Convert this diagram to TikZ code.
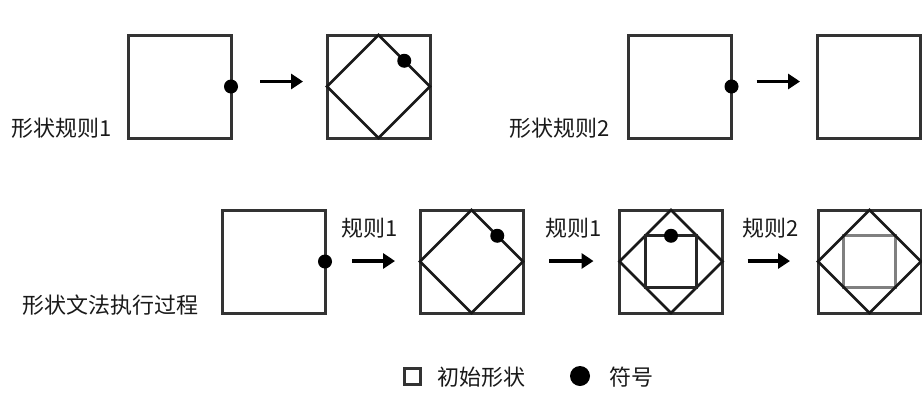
\documentclass[tikz,border=0pt]{standalone}
\usepackage{fontspec}
\setmainfont{Liberation Sans}
\newfontfamily\cjk{Noto Sans CJK SC}
\usetikzlibrary{arrows.meta,calc}
\begin{document}
\begin{tikzpicture}[x=1pt,y=-1pt,
  box/.style={draw=black!80,line width=3pt,minimum size=103pt,inner sep=0pt,outer sep=0pt},
  inbox/.style={draw=black!85,line width=2.8pt,minimum size=51.5pt,inner sep=0pt,outer sep=0pt},
  grayin/.style={draw=black!50,line width=3.2pt,minimum size=51.5pt,inner sep=0pt,outer sep=0pt},
  diam/.style={draw=black!90,line width=2.8pt,line join=miter},
  dot/.style={circle,fill=black,inner sep=0pt,minimum size=14pt},
  arr/.style={line width=3.6pt,-{Triangle[length=12pt,width=15pt]}},
  lbl/.style={font=\cjk\fontsize{22}{25}\selectfont,inner sep=0pt,text=black!90}
]
\useasboundingbox (0,0) rectangle (922,405);
% top row
\node[box] (s1) at (179.5,86.5) {};
\node[box] (s2) at (378.5,86.5) {};
\node[box] (s3) at (680,86.5) {};
\node[box] (s4) at (868.5,86.5) {};
\draw[diam] (s2.north) -- (s2.east) -- (s2.south) -- (s2.west) -- cycle;
\node[dot] (d1) at (s1.east) {};
\node[dot] (d2) at ($(s2.north)!0.5!(s2.east)$) {};
\node[dot] (d3) at (s3.east) {};
\draw[arr] ([xshift=29pt,yshift=5pt]s1.east) -- ([xshift=-24pt,yshift=5pt]s2.west);
\draw[arr] ([xshift=25pt,yshift=5pt]s3.east) -- ([xshift=-17pt,yshift=5pt]s4.west);
\node[lbl] (l1) at (62,128) {形状规则1};
\node[lbl] (l2) at (560,128) {形状规则2};
% bottom row
\node[box] (t1) at (273.5,261.5) {};
\node[box] (t2) at (471.5,261.5) {};
\node[box] (t3) at (671,261.5) {};
\node[box] (t4) at (869.5,261.5) {};
\draw[diam] (t2.north) -- (t2.east) -- (t2.south) -- (t2.west) -- cycle;
\draw[diam] (t3.north) -- (t3.east) -- (t3.south) -- (t3.west) -- cycle;
\node[inbox] (i3) at (t3.center) {};
\node[grayin] (i4) at (t4.center) {};
\draw[diam] (t4.north) -- (t4.east) -- (t4.south) -- (t4.west) -- cycle;
\node[dot] (e1) at (t1.east) {};
\node[dot] (e2) at ($(t2.north)!0.5!(t2.east)$) {};
\node[dot] (e3) at (i3.north) {};
\draw[arr] ([xshift=27pt,yshift=0.5pt]t1.east) -- ([xshift=-25pt,yshift=0.5pt]t2.west);
\draw[arr] ([xshift=26pt,yshift=0.5pt]t2.east) -- ([xshift=-26pt,yshift=0.5pt]t3.west);
\draw[arr] ([xshift=25pt,yshift=0.5pt]t3.east) -- ([xshift=-28pt,yshift=0.5pt]t4.west);
\node[lbl] (r1) at (370,228) {规则1};
\node[lbl] (r2) at (574,228) {规则1};
\node[lbl] (r3) at (771,228) {规则2};
\node[lbl] (l3) at (111,305) {形状文法执行过程};
% legend
\node[draw=black!80,line width=3pt,minimum size=16pt,inner sep=0pt] (lg1) at (412,376) {};
\node[lbl,anchor=west] (lt1) at (437,377) {初始形状};
\node[circle,fill=black,inner sep=0pt,minimum size=20pt] (lg2) at (580,376) {};
\node[lbl,anchor=west] (lt2) at (609,377) {符号};
\end{tikzpicture}
\end{document}
